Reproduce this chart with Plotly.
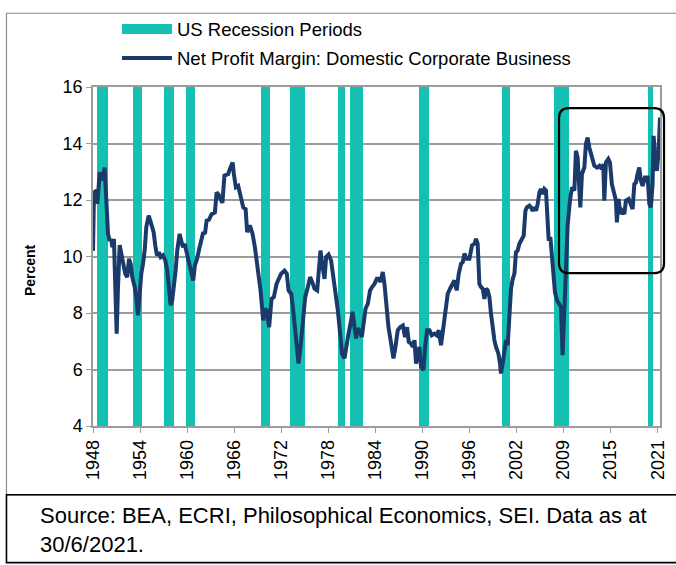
import numpy as np
import plotly.graph_objects as go

# ---------------- data ----------------
years = [
    1948.00, 1948.13, 1948.43, 1948.56, 1948.87, 1949.07, 1949.29, 1949.51, 1949.72, 1949.94,
    1950.16, 1950.36, 1950.49, 1950.71, 1950.88, 1951.06, 1951.23, 1951.45, 1951.66, 1951.88,
    1952.17, 1952.43, 1952.65, 1952.87, 1953.08, 1953.39, 1953.59, 1953.81, 1954.03, 1954.24,
    1954.46, 1954.68, 1954.89, 1955.20, 1955.40, 1955.62, 1955.84, 1956.05, 1956.27, 1956.53,
    1956.75, 1957.04, 1957.34, 1957.60, 1957.82, 1958.04, 1958.24, 1958.46, 1958.68, 1958.89,
    1959.20, 1959.41, 1959.63, 1959.85, 1960.14, 1960.40, 1960.66, 1960.96, 1961.18, 1961.43,
    1961.76, 1962.04, 1962.25, 1962.47, 1962.69, 1962.99, 1963.33, 1963.76, 1963.98, 1964.21,
    1964.41, 1964.73, 1964.99, 1965.48, 1965.70, 1966.05, 1966.21, 1966.47, 1966.77, 1967.12,
    1967.42, 1967.73, 1967.93, 1968.28, 1968.63, 1968.93, 1969.35, 1969.66, 1970.00, 1970.22,
    1970.44, 1970.77, 1971.08, 1971.38, 1971.73, 1972.07, 1972.32, 1972.76, 1973.06, 1973.28,
    1973.62, 1973.84, 1974.13, 1974.39, 1974.57, 1974.83, 1975.13, 1975.43, 1975.77, 1976.07,
    1976.33, 1976.64, 1976.98, 1977.20, 1977.41, 1977.62, 1977.93, 1978.14, 1978.45, 1978.78,
    1979.09, 1979.35, 1979.65, 1979.95, 1980.20, 1980.51, 1980.72, 1981.03, 1981.29, 1981.55,
    1981.81, 1982.01, 1982.23, 1982.45, 1982.75, 1983.01, 1983.23, 1983.53, 1983.82, 1984.08,
    1984.39, 1984.69, 1984.95, 1985.17, 1985.46, 1985.68, 1985.89, 1986.20, 1986.54, 1986.84,
    1987.10, 1987.40, 1987.70, 1988.05, 1988.34, 1988.60, 1988.82, 1989.12, 1989.34, 1989.56,
    1989.76, 1989.98, 1990.20, 1990.41, 1990.72, 1990.93, 1991.19, 1991.50, 1991.79, 1992.14,
    1992.44, 1992.70, 1992.99, 1993.30, 1993.56, 1993.86, 1994.16, 1994.50, 1994.72, 1995.02,
    1995.28, 1995.58, 1995.80, 1996.02, 1996.31, 1996.66, 1997.00, 1997.31, 1997.52, 1997.73,
    1997.95, 1998.16, 1998.38, 1998.60, 1998.81, 1999.03, 1999.25, 1999.45, 1999.67, 1999.89,
    2000.10, 2000.41, 2000.62, 2000.74, 2000.96, 2001.18, 2001.39, 2001.61, 2001.83, 2002.04,
    2002.26, 2002.48, 2002.68, 2002.90, 2003.12, 2003.42, 2003.68, 2003.90, 2004.10, 2004.41,
    2004.62, 2004.84, 2005.06, 2005.27, 2005.49, 2005.71, 2005.91, 2006.13, 2006.35, 2006.56,
    2006.78, 2006.91, 2007.13, 2007.29, 2007.55, 2007.72, 2007.98, 2008.29, 2008.50, 2008.71,
    2008.93, 2009.14, 2009.36, 2009.66, 2009.92, 2010.23, 2010.43, 2010.65, 2010.87, 2011.00,
    2011.21, 2011.52, 2011.72, 2011.94, 2012.16, 2012.50, 2012.81, 2013.15, 2013.46, 2013.75,
    2013.97, 2014.10, 2014.31, 2014.62, 2014.83, 2015.08, 2015.39, 2015.60, 2015.73, 2015.95,
    2016.17, 2016.38, 2016.69, 2016.89, 2017.24, 2017.54, 2017.76, 2017.98, 2018.19, 2018.40,
    2018.62, 2018.83, 2019.05, 2019.35, 2019.70, 2019.92, 2020.12, 2020.34, 2020.47, 2020.69,
    2020.90, 2021.12, 2021.30,
]
net_profit_margin = [
    10.20, 12.27, 12.33, 11.86, 12.98, 12.86, 12.70, 13.15, 12.20, 10.80,
    10.56, 10.62, 10.33, 10.62, 8.92, 7.27, 8.92, 10.40, 10.10, 9.74,
    9.39, 9.27, 9.92, 9.74, 9.27, 8.92, 8.56, 7.92, 8.92, 9.39,
    9.74, 10.21, 11.04, 11.45, 11.27, 10.98, 10.86, 10.39, 10.04, 10.15,
    9.98, 10.04, 9.86, 9.50, 8.92, 8.27, 8.45, 8.92, 9.50, 10.21,
    10.80, 10.56, 10.33, 10.45, 10.00, 9.80, 9.50, 9.15, 9.70, 9.90,
    10.30, 10.70, 10.86, 10.80, 11.27, 11.30, 11.50, 11.56, 12.27, 12.20,
    12.10, 11.90, 12.86, 12.92, 13.10, 13.33, 12.92, 12.45, 12.50, 12.03,
    11.74, 11.68, 10.86, 11.10, 10.80, 10.33, 9.50, 8.80, 7.74, 8.15,
    8.10, 7.50, 8.50, 8.56, 9.03, 9.27, 9.39, 9.50, 9.39, 8.80,
    8.68, 8.21, 7.39, 6.56, 6.21, 6.80, 7.86, 8.56, 8.92, 9.27,
    9.10, 8.86, 8.80, 9.50, 10.21, 9.74, 9.21, 9.98, 10.07, 9.86,
    9.27, 8.68, 8.10, 7.27, 6.56, 6.39, 6.80, 7.27, 7.62, 8.04,
    7.50, 7.10, 7.45, 7.39, 7.15, 7.74, 8.15, 8.33, 8.80, 8.92,
    9.03, 9.21, 9.21, 9.10, 9.45, 9.03, 8.21, 7.50, 6.92, 6.39,
    6.80, 7.39, 7.50, 7.56, 7.15, 7.50, 6.98, 6.92, 6.80, 7.04,
    6.21, 6.56, 6.80, 6.09, 5.98, 6.80, 7.39, 7.39, 7.21, 7.27,
    7.21, 7.39, 6.86, 7.50, 8.10, 8.68, 8.86, 9.03, 9.15, 8.80,
    9.39, 9.74, 9.80, 10.10, 9.92, 9.92, 10.39, 10.45, 10.62, 10.45,
    9.03, 8.92, 8.86, 8.50, 8.86, 8.80, 8.56, 7.98, 7.39, 7.04,
    6.80, 6.56, 6.21, 5.86, 6.21, 6.56, 7.04, 6.86, 7.86, 8.86,
    9.21, 9.39, 10.15, 10.21, 10.45, 10.62, 10.74, 11.62, 11.74, 11.80,
    11.74, 11.62, 11.74, 11.62, 11.86, 12.27, 12.39, 12.21, 12.39, 12.33,
    11.50, 10.56, 10.68, 10.21, 9.39, 8.74, 8.45, 8.27, 8.21, 6.51,
    8.10, 10.00, 11.10, 11.98, 12.45, 12.33, 13.74, 13.50, 12.45, 11.74,
    12.92, 13.15, 13.98, 14.21, 13.86, 13.50, 13.21, 13.15, 13.21, 13.10,
    13.27, 11.98, 13.33, 13.45, 13.33, 12.56, 12.21, 11.98, 11.21, 12.04,
    11.50, 11.62, 11.50, 11.98, 12.04, 11.80, 11.68, 12.56, 12.62, 12.92,
    13.15, 12.68, 12.50, 12.80, 12.80, 11.86, 11.74, 12.56, 14.27, 13.50,
    13.03, 13.74, 14.92,
]
recession_start = [1948.52, 1953.17, 1957.17, 1959.98, 1969.66, 1973.49,
                   1979.65, 1981.16, 1990.11, 2000.87, 2007.64, 2019.70]
recession_end = [1949.94, 1954.37, 1958.46, 1961.22, 1970.90, 1975.35,
                 1980.64, 1982.88, 1991.40, 2001.91, 2009.58, 2020.43]
tick_labels = ["1948", "1954", "1960", "1966", "1972", "1978", "1984",
               "1990", "1996", "2002", "2009", "2015", "2021"]
y_min, y_max = 4, 16

# ---------------- styling ----------------
TEAL = "#14C0B2"
NAVY = "#1A3A6C"
GRID = "#9C9C9C"
FONT = "Liberation Sans, Arial, sans-serif"

rs = np.array(recession_start)
re_ = np.array(recession_end)

fig = go.Figure()

# recession shading (full height bars)
fig.add_trace(go.Bar(
    x=(rs + re_) / 2, y=[y_max - y_min] * len(rs), base=y_min,
    width=re_ - rs, marker=dict(color=TEAL, line=dict(width=0)),
    showlegend=False, hoverinfo="skip",
))
# legend proxy for recessions
fig.add_trace(go.Scatter(
    x=[None], y=[None], mode="lines", name="US Recession Periods",
    line=dict(color=TEAL, width=12), legendgroup="a",
))
fig.add_trace(go.Scatter(
    x=years, y=net_profit_margin, mode="lines",
    name="Net Profit Margin: Domestic Corporate Business",
    line=dict(color=NAVY, width=4), legendgroup="b",
))

tickvals = np.linspace(years[0], 2021.0, len(tick_labels))

fig.update_layout(
    width=676, height=565,
    margin=dict(l=93, r=16, t=86, b=139),
    paper_bgcolor="white", plot_bgcolor="white",
    font=dict(family=FONT, size=18, color="#000000"),
    bargap=0,
    showlegend=True,
    legend=dict(
        x=0.0423, y=1.222, xanchor="left", yanchor="top",
        font=dict(family=FONT, size=18.5, color="#000000"),
        bgcolor="rgba(0,0,0,0)", traceorder="grouped", tracegroupgap=2,
        itemwidth=50,
    ),
    xaxis=dict(
        range=[years[0], 2021.3], tickmode="array", tickvals=tickvals,
        ticktext=tick_labels, tickangle=-90, showgrid=False,
        showline=True, linecolor=GRID, linewidth=1.5, mirror=True,
        ticks="outside", ticklen=5, tickcolor=GRID, zeroline=False,
        tickfont=dict(size=18), automargin=False,
    ),
    yaxis=dict(
        range=[y_min, y_max], dtick=2, showgrid=True, gridcolor=GRID,
        gridwidth=1.5, showline=True, linecolor=GRID, linewidth=1.5,
        mirror=True, ticks="outside", ticklen=5, tickcolor=GRID,
        zeroline=False, tickfont=dict(size=18), automargin=False,
    ),
)

# y-axis title
fig.add_annotation(
    text="<b>Percent</b>", xref="paper", yref="paper", x=-0.111, y=0.46,
    xanchor="center", yanchor="middle",
    textangle=-90, showarrow=False, font=dict(family=FONT, size=14),
)
# source note
fig.add_annotation(
    text="Source: BEA, ECRI, Philosophical Economics, SEI. Data as at<br>30/6/2021.",
    xref="paper", yref="paper", x=-0.097, y=-0.306, xanchor="left",
    yanchor="middle", align="left", showarrow=False,
    font=dict(family=FONT, size=22),
)

# outer chart frame (grey) and source box (black)
fig.add_shape(type="rect", xref="paper", yref="paper",
              x0=-0.1526, x1=1.1, y0=-0.203, y1=1.2176,
              line=dict(color="#8C8C8C", width=1.2), layer="below")
fig.add_shape(type="rect", xref="paper", yref="paper",
              x0=-0.1526, x1=1.1, y0=-0.403, y1=-0.203,
              line=dict(color="#000000", width=1.6), layer="below")

# rounded highlight box
bx0, bx1, by0, by1 = 0.8219, 1.0071, 0.4509, 0.9374
rx, ry = 0.0176, 0.0294
path = (f"M {bx0 + rx},{by1} L {bx1 - rx},{by1} Q {bx1},{by1} {bx1},{by1 - ry} "
        f"L {bx1},{by0 + ry} Q {bx1},{by0} {bx1 - rx},{by0} "
        f"L {bx0 + rx},{by0} Q {bx0},{by0} {bx0},{by0 + ry} "
        f"L {bx0},{by1 - ry} Q {bx0},{by1} {bx0 + rx},{by1} Z")
fig.add_shape(type="path", xref="paper", yref="paper", path=path,
              line=dict(color="#000000", width=2.2))

fig.write_html("out.html", config={"displayModeBar": False},
               post_script="document.body.style.margin='0';")
